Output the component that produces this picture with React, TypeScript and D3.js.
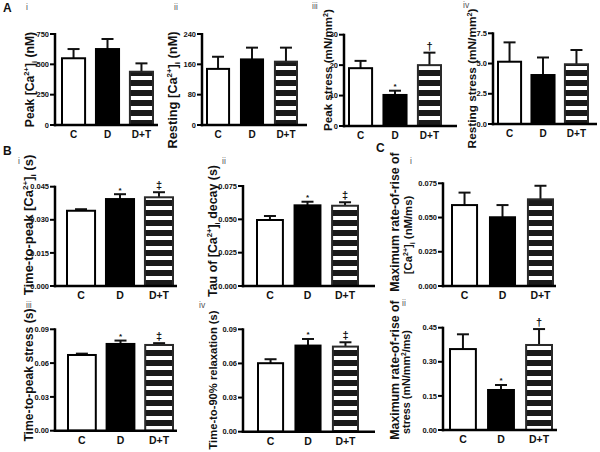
import React from 'react';
import * as d3 from 'd3';

// ---------- data ----------
const groups = ['C', 'D', 'D+T'];

const peakCa = [550, 626, 439];
const peakCaSem = [76, 83, 69];
const peakCaTicks = [0, 250, 500, 750];

const restCa = [148, 173, 167];
const restCaSem = [32, 31, 37];
const restCaTicks = [0, 80, 160, 240];

const peakStress = [19.0, 10.2, 20.0];
const peakStressSem = [2.4, 1.4, 4.1];
const peakStressTicks = [0, 10, 20, 30];
const peakStressMarks = ['', '*', '†'];

const restStress = [5.15, 4.05, 4.94];
const restStressSem = [1.6, 1.45, 1.18];
const restStressTicks = [0, 2.5, 5.0, 7.5];

const ttpCa = [0.0341, 0.0394, 0.0402];
const ttpCaSem = [0.0007, 0.0022, 0.0023];
const ttpCaTicks = [0, 0.015, 0.03, 0.045];
const ttpCaMarks = ['', '*', '‡'];

const tauCa = [0.0495, 0.0605, 0.0602];
const tauCaSem = [0.003, 0.0027, 0.0026];
const tauCaTicks = [0, 0.025, 0.05, 0.075];
const tauCaMarks = ['', '*', '‡'];

const riseCa = [0.0591, 0.0502, 0.0633];
const riseCaSem = [0.0091, 0.0089, 0.0099];
const riseCaTicks = [0, 0.025, 0.05, 0.075];

const ttpStress = [0.0672, 0.077, 0.0761];
const ttpStressSem = [0.0012, 0.003, 0.0016];
const ttpStressTicks = [0, 0.03, 0.06, 0.09];
const ttpStressMarks = ['', '*', '‡'];

const relax90 = [0.0602, 0.0757, 0.0748];
const relax90Sem = [0.0035, 0.0058, 0.0038];
const relax90Ticks = [0, 0.03, 0.06, 0.09];
const relax90Marks = ['', '*', '‡'];

const riseStress = [0.356, 0.176, 0.374];
const riseStressSem = [0.065, 0.022, 0.07];
const riseStressTicks = [0, 0.15, 0.3, 0.45];
const riseStressMarks = ['', '*', '†'];

// ---------- layout ----------
type PanelCfg = {
  values: number[]; sem: number[]; ticks: number[]; fmt: string; marks?: string[];
  axisX: number; axisEnd: number; yTop: number; yZero: number;
  b0: number; b1: number; pad: number;
  titles: { text: string; x: number; y: number; size: number }[];
  roman: { text: string; x: number; y: number };
  catSize: number;
};

const panels: PanelCfg[] = [
  { values: peakCa, sem: peakCaSem, ticks: peakCaTicks, fmt: 'd',
    axisX: 55, axisEnd: 158, yTop: 34, yZero: 125, b0: 62, b1: 153, pad: 0.32,
    titles: [{ text: 'Peak [Ca^{2+}]_{i} (nM)', x: 34, y: 79.5, size: 12.2 }], roman: { text: 'i', x: 26, y: 10 }, catSize: 10 },
  { values: restCa, sem: restCaSem, ticks: restCaTicks, fmt: 'd',
    axisX: 202, axisEnd: 307, yTop: 34, yZero: 125, b0: 207, b1: 297, pad: 0.35,
    titles: [{ text: 'Resting [Ca^{2+}]_{i} (nM)', x: 177, y: 90, size: 12.8 }], roman: { text: 'ii', x: 174, y: 10 }, catSize: 10 },
  { values: peakStress, sem: peakStressSem, ticks: peakStressTicks, fmt: 'd', marks: peakStressMarks,
    axisX: 344, axisEnd: 457, yTop: 34.7, yZero: 126, b0: 349, b1: 441, pad: 0.33,
    titles: [{ text: 'Peak stress (mN/mm^{2})', x: 332, y: 70, size: 11.6 }], roman: { text: 'iii', x: 312, y: 9 }, catSize: 10 },
  { values: restStress, sem: restStressSem, ticks: restStressTicks, fmt: '.1f',
    axisX: 493, axisEnd: 597, yTop: 33.3, yZero: 124, b0: 498, b1: 588, pad: 0.31,
    titles: [{ text: 'Resting stress (mN/mm^{2})', x: 476, y: 78.5, size: 11.8 }], roman: { text: 'iv', x: 463, y: 8 }, catSize: 10 },
  { values: ttpCa, sem: ttpCaSem, ticks: ttpCaTicks, fmt: '.3f', marks: ttpCaMarks,
    axisX: 55, axisEnd: 177, yTop: 186.7, yZero: 286, b0: 67, b1: 173, pad: 0.28,
    titles: [{ text: 'Time-to-peak [Ca^{2+}]_{i} (s)', x: 33, y: 225, size: 13 }], roman: { text: 'i', x: 18, y: 164 }, catSize: 10.5 },
  { values: tauCa, sem: tauCaSem, ticks: tauCaTicks, fmt: '.3f', marks: tauCaMarks,
    axisX: 243, axisEnd: 375, yTop: 186, yZero: 286, b0: 257, b1: 358, pad: 0.31,
    titles: [{ text: 'Tau of [Ca^{2+}]_{i} decay (s)', x: 217, y: 231, size: 12.4 }], roman: { text: 'ii', x: 222, y: 164 }, catSize: 10.5 },
  { values: riseCa, sem: riseCaSem, ticks: riseCaTicks, fmt: '.3f',
    axisX: 443, axisEnd: 556, yTop: 183.3, yZero: 286, b0: 452, b1: 553, pad: 0.34,
    titles: [{ text: 'Maximum rate-of-rise of', x: 399, y: 222, size: 12.3 }, { text: '[Ca^{2+}]_{i} (nM/ms)', x: 412, y: 235, size: 11.3 }],
    roman: { text: 'i', x: 410, y: 164 }, catSize: 10.5 },
  { values: ttpStress, sem: ttpStressSem, ticks: ttpStressTicks, fmt: '.2f', marks: ttpStressMarks,
    axisX: 55, axisEnd: 177, yTop: 329.3, yZero: 430.7, b0: 68, b1: 173, pad: 0.28,
    titles: [{ text: 'Time-to-peak stress (s)', x: 33, y: 375, size: 12.2 }], roman: { text: 'iii', x: 26, y: 308 }, catSize: 10.5 },
  { values: relax90, sem: relax90Sem, ticks: relax90Ticks, fmt: '.2f', marks: relax90Marks,
    axisX: 243, axisEnd: 375, yTop: 329.3, yZero: 431.7, b0: 258, b1: 358, pad: 0.33,
    titles: [{ text: 'Time-to-90% relaxation (s)', x: 217, y: 380, size: 11.2 }], roman: { text: 'iv', x: 199, y: 308 }, catSize: 10.5 },
  { values: riseStress, sem: riseStressSem, ticks: riseStressTicks, fmt: '.2f', marks: riseStressMarks,
    axisX: 443, axisEnd: 557, yTop: 327.7, yZero: 430, b0: 450, b1: 552, pad: 0.32,
    titles: [{ text: 'Maximum rate-of-rise of', x: 399, y: 370, size: 12.3 }, { text: 'stress (mN/mm^{2}/ms)', x: 410, y: 382, size: 10.8 }],
    roman: { text: 'ii', x: 402, y: 306 }, catSize: 10.5 },
];

const FONT = '"Liberation Sans", Arial, Helvetica, sans-serif';

function RichText({ text, size }: { text: string; size: number }) {
  const parts: { t: string; k: 'n' | 'sup' | 'sub' }[] = [];
  const re = /(\^\{[^}]*\}|_\{[^}]*\})/g;
  let last = 0;
  let m: RegExpExecArray | null;
  while ((m = re.exec(text))) {
    if (m.index > last) parts.push({ t: text.slice(last, m.index), k: 'n' });
    const s = m[0];
    parts.push({ t: s.slice(2, -1), k: s[0] === '^' ? 'sup' : 'sub' });
    last = m.index + s.length;
  }
  if (last < text.length) parts.push({ t: text.slice(last), k: 'n' });
  let shift = 0;
  const small = size * 0.62;
  return (
    <>
      {parts.map((p, i) => {
        const target = p.k === 'sup' ? -size * 0.38 : p.k === 'sub' ? size * 0.22 : 0;
        const dy = target - shift;
        shift = target;
        return (
          <tspan key={i} dy={dy} fontSize={p.k === 'n' ? size : small}>
            {p.t}
          </tspan>
        );
      })}
    </>
  );
}

function Panel({ cfg }: { cfg: PanelCfg }) {
  const max = cfg.ticks[cfg.ticks.length - 1];
  const y = d3.scaleLinear().domain([0, max]).range([cfg.yZero, cfg.yTop]);
  const x = d3.scaleBand<string>().domain(groups).range([cfg.b0, cfg.b1]).paddingInner(cfg.pad).paddingOuter(0);
  const fmt = d3.format(cfg.fmt);
  const bw = x.bandwidth();
  const fills = ['#ffffff', '#000000', 'url(#stripes)'];
  return (
    <g fontFamily={FONT} fontWeight="bold">
      {cfg.titles.map((t, i) => (
        <text key={i} transform={`translate(${t.x},${t.y}) rotate(-90)`} textAnchor="middle" fontSize={t.size} fill="#111">
          <RichText text={t.text} size={t.size} />
        </text>
      ))}
      <text x={cfg.roman.x} y={cfg.roman.y} fontSize={8.5} fontWeight="normal" fill="#555">{cfg.roman.text}</text>
      {groups.map((g, i) => {
        const cx = (x(g) as number) + bw / 2;
        const top = y(cfg.values[i] + cfg.sem[i]);
        return (
          <g key={'e' + g} stroke="#111" strokeWidth={2}>
            <line x1={cx} x2={cx} y1={y(cfg.values[i])} y2={top} />
            <line x1={cx - 6} x2={cx + 6} y1={top} y2={top} />
          </g>
        );
      })}
      {groups.map((g, i) => (
        <rect key={'b' + g} x={x(g)} y={y(cfg.values[i])} width={bw} height={cfg.yZero - y(cfg.values[i])}
          fill={fills[i]} stroke={i === 2 ? '#2a2a2a' : '#000'} strokeWidth={2} />
      ))}
      {cfg.marks && groups.map((g, i) => {
        const mk = cfg.marks![i];
        if (!mk) return null;
        const cx = (x(g) as number) + bw / 2;
        const top = y(cfg.values[i] + cfg.sem[i]);
        return mk === '*' ? (
          <text key={'m' + g} x={cx} y={top - 1.5} textAnchor="middle" fontSize={8} fill="#111">*</text>
        ) : (
          <text key={'m' + g} x={cx} y={top - 3} textAnchor="middle" fontSize={11} fill="#111">{mk}</text>
        );
      })}
      <line x1={cfg.axisX} x2={cfg.axisX} y1={cfg.yTop - 1} y2={cfg.yZero + 1.25} stroke="#000" strokeWidth={2.5} />
      <line x1={cfg.axisX - 1.25} x2={cfg.axisEnd} y1={cfg.yZero} y2={cfg.yZero} stroke="#000" strokeWidth={2.5} />
      {cfg.ticks.map((t) => (
        <g key={'t' + t}>
          <line x1={cfg.axisX - 5} x2={cfg.axisX} y1={y(t)} y2={y(t)} stroke="#000" strokeWidth={2} />
          <text x={cfg.axisX - 6} y={y(t)} dy="0.35em" textAnchor="end" fontSize={7.5} fill="#111">{fmt(t)}</text>
        </g>
      ))}
      {groups.map((g) => (
        <text key={'c' + g} x={(x(g) as number) + bw / 2} y={cfg.yZero + 13} textAnchor="middle" fontSize={cfg.catSize} fill="#111">{g}</text>
      ))}
    </g>
  );
}

export default function App() {
  return (
    <svg width={600} height={452} style={{ position: 'absolute', left: 0, top: 0, background: '#fff' }}>
      <defs>
        <pattern id="stripes" patternUnits="userSpaceOnUse" width={10} height={10}>
          <rect width={10} height={10} fill="#1a1a1a" />
          <rect y={6} width={10} height={4} fill="#ffffff" />
        </pattern>
      </defs>
      <rect width={600} height={452} fill="#fff" />
      <g fontFamily={FONT} fontWeight="bold" fontSize={12} fill="#111">
        <text x={3} y={12}>A</text>
        <text x={3} y={155}>B</text>
        <text x={376} y={152}>C</text>
      </g>
      {panels.map((p, i) => <Panel key={i} cfg={p} />)}
    </svg>
  );
}
